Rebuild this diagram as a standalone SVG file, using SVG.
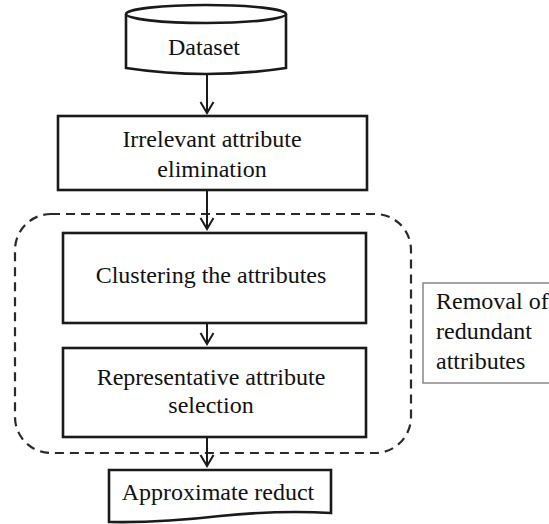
<svg xmlns="http://www.w3.org/2000/svg" width="549" height="524" viewBox="0 0 549 524">
<defs>
<style>
.box{fill:#fff;stroke:#1a1a1a;stroke-width:2.6}
.t{font-family:"Liberation Serif","Times New Roman",serif;font-size:24px;fill:#111;text-anchor:middle}
.tl{font-family:"Liberation Serif","Times New Roman",serif;font-size:24px;fill:#111}
.c{stroke:#1a1a1a;stroke-width:2;fill:none}
</style>
<marker id="ah" markerWidth="16" markerHeight="16" refX="12" refY="8" orient="auto" markerUnits="userSpaceOnUse" viewBox="0 0 16 16">
<polyline points="1,1.5 12,8 1,14.5" fill="none" stroke="#1a1a1a" stroke-width="2"/>
</marker>
</defs>
<g id="group-redundant">
<rect x="15" y="214" width="396" height="239" rx="36" ry="36" fill="none" stroke="#2a2a2a" stroke-width="2.2" stroke-dasharray="9,6"/>
</g>
<g id="connectors">
<line class="c" x1="207" y1="73" x2="207" y2="113" marker-end="url(#ah)"/>
<line class="c" x1="207" y1="190" x2="207" y2="229" marker-end="url(#ah)"/>
<line class="c" x1="207" y1="323" x2="207" y2="344" marker-end="url(#ah)"/>
<line class="c" x1="207" y1="437" x2="207" y2="466" marker-end="url(#ah)"/>
</g>
<g id="dataset">
<path class="box" d="M126,14 L126,68 Q206,80 286,68 L286,14"/>
<ellipse class="box" cx="206" cy="14" rx="80" ry="9"/>
<text class="t" x="204" y="55">Dataset</text>
</g>
<g id="irrelevant">
<rect class="box" x="58" y="116" width="309" height="74"/>
<text class="t" x="212" y="147">Irrelevant attribute</text>
<text class="t" x="212" y="177">elimination</text>
</g>
<g id="clustering">
<rect class="box" x="63" y="233" width="303" height="90"/>
<text class="t" x="211" y="283">Clustering the attributes</text>
</g>
<g id="representative">
<rect class="box" x="63" y="348" width="303" height="89"/>
<text class="t" x="211" y="385">Representative attribute</text>
<text class="t" x="211" y="413">selection</text>
</g>
<g id="approximate">
<path class="box" d="M109,470 L331,470 L331,513 Q280,510 220,516 Q160,523 109,522 Z"/>
<text class="t" x="218" y="500">Approximate reduct</text>
</g>
<g id="removal">
<rect x="423" y="283" width="140" height="100" fill="#fff" stroke="#888" stroke-width="1.5"/>
<text class="tl" x="436" y="309">Removal of</text>
<text class="tl" x="436" y="339">redundant</text>
<text class="tl" x="436" y="369">attributes</text>
</g>
</svg>
